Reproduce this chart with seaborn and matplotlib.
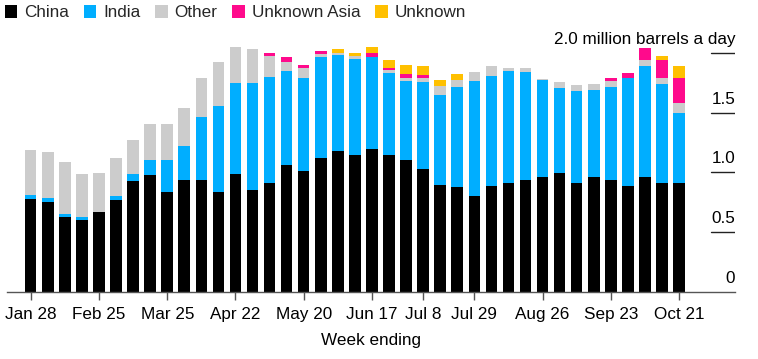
import numpy as np
import pandas as pd
import seaborn as sns
import matplotlib.pyplot as plt
from matplotlib.patches import Patch

sns.set_theme(style="white")
plt.rcParams['font.family'] = ['Liberation Sans', 'DejaVu Sans']

weeks = pd.date_range('2022-01-28', periods=39, freq='7D').strftime('%b %-d').tolist()

china = [0.78, 0.755, 0.625, 0.605, 0.665, 0.77, 0.925, 0.975, 0.835, 0.935,
         0.935, 0.835, 0.985, 0.855, 0.915, 1.065, 1.015, 1.12, 1.18, 1.145,
         1.20, 1.145, 1.105, 1.025, 0.895, 0.875, 0.805, 0.885, 0.915, 0.935,
         0.965, 0.995, 0.915, 0.965, 0.935, 0.885, 0.965, 0.915, 0.915]
india = [0.03, 0.03, 0.03, 0.02, 0.0, 0.035, 0.06, 0.13, 0.27, 0.29,
         0.53, 0.725, 0.765, 0.895, 0.885, 0.785, 0.78, 0.845, 0.805, 0.81,
         0.77, 0.685, 0.665, 0.735, 0.755, 0.845, 0.965, 0.925, 0.935, 0.905,
         0.81, 0.715, 0.765, 0.725, 0.785, 0.91, 0.925, 0.825, 0.585]
other = [0.375, 0.385, 0.43, 0.36, 0.33, 0.315, 0.29, 0.30, 0.30, 0.315,
         0.33, 0.37, 0.305, 0.285, 0.18, 0.08, 0.08, 0.03, 0.02, 0.02,
         0.0, 0.03, 0.025, 0.035, 0.075, 0.055, 0.075, 0.08, 0.03, 0.035,
         0.005, 0.05, 0.05, 0.05, 0.05, 0.0, 0.05, 0.05, 0.08]
unknown_asia = [0, 0, 0, 0, 0, 0, 0, 0, 0, 0,
                0, 0, 0, 0, 0.02, 0.035, 0.025, 0.02, 0, 0,
                0.03, 0.02, 0.03, 0.02, 0, 0, 0, 0, 0, 0,
                0, 0, 0, 0, 0.02, 0.035, 0.10, 0.15, 0.215]
unknown = [0, 0, 0, 0, 0, 0, 0, 0, 0, 0,
           0, 0, 0, 0, 0, 0, 0, 0, 0.03, 0.03,
           0.055, 0.06, 0.08, 0.08, 0.05, 0.05, 0, 0, 0, 0,
           0, 0, 0, 0, 0, 0, 0, 0.035, 0.10]

series = ['China', 'India', 'Other', 'Unknown Asia', 'Unknown']
colors = ['#000000', '#00aeff', '#cccccc', '#ff0a8c', '#ffc000']
tick_weeks = ['Jan 28', 'Feb 25', 'Mar 25', 'Apr 22', 'May 20', 'Jun 17',
              'Jul 8', 'Jul 29', 'Aug 26', 'Sep 23', 'Oct 21']
y_ticks = [0, 0.5, 1.0, 1.5, 2.0]
y_labels = ['0', '0.5', '1.0', '1.5', '2.0 million barrels a day']

df = pd.DataFrame({'week': weeks, 'China': china, 'India': india, 'Other': other,
                   'Unknown Asia': unknown_asia, 'Unknown': unknown})
cum = df[series].cumsum(axis=1)

fs = 12.3
fig = plt.figure(figsize=(7.58, 3.59), dpi=100)
ax = fig.add_axes([0.0092, 0.1875, 0.9605, 0.6975])

# draw cumulative totals from the top layer down so each layer shows through
for name, col in reversed(list(zip(series, colors))):
    sns.barplot(x=df['week'], y=cum[name], color=col, saturation=1, width=0.68,
                order=weeks, ax=ax, linewidth=0)

ax.set_xlim(-1.39, 41.28)
ax.set_ylim(0, 2.1)
ax.set_xlabel('Week ending', fontsize=fs, color='#000000', labelpad=8)
ax.set_ylabel('')
ax.set_xticks([weeks.index(w) for w in tick_weeks])
ax.set_xticklabels(tick_weeks, fontsize=fs, color='#000000')
ax.tick_params(axis='x', bottom=True, length=6, width=1, color='#555555', pad=5)
ax.set_yticks([])
for s in ['top', 'right', 'left']:
    ax.spines[s].set_visible(False)
ax.spines['bottom'].set_color('#555555')
ax.spines['bottom'].set_linewidth(1)

# short reference lines with labels at the right edge
for v, lab in zip(y_ticks, y_labels):
    if v > 0:
        ax.axhline(v, xmin=0.967, xmax=1, color='#222222', lw=1)
    ax.text(41.3, v + 0.05, lab, ha='right', va='bottom', fontsize=fs, color='#000000')

handles = [Patch(facecolor=c, edgecolor='none') for c in colors]
fig.legend(handles, series, loc='upper left', bbox_to_anchor=(-0.003, 1.005), ncol=5,
           frameon=False, fontsize=fs, handlelength=0.75, handleheight=0.75,
           handletextpad=0.4, columnspacing=0.85, borderaxespad=0)

fig.savefig('out.png', dpi=100)
